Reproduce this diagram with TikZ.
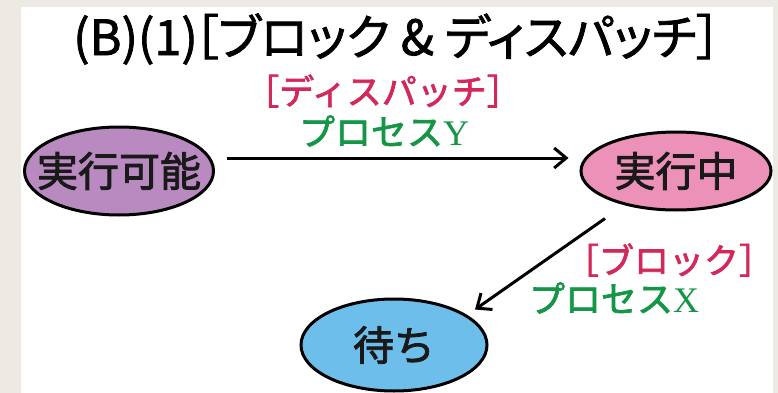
\documentclass[tikz,border=0pt]{standalone}
\usepackage{fontspec}
\usetikzlibrary{arrows.meta,shapes.geometric}
\newfontfamily\jp[BoldFont={Noto Sans CJK JP},BoldFeatures={FakeBold=2}]{Noto Sans CJK JP}
\newfontfamily\jptitle[BoldFont={Noto Sans CJK JP},BoldFeatures={FakeBold=1.6,RawFeature=+palt},RawFeature=+palt]{Noto Sans CJK JP}
\newfontfamily\ser{Liberation Serif}
\definecolor{bggray}{HTML}{ECEAE3}
\definecolor{purp}{HTML}{B88AC0}
\definecolor{pinkf}{HTML}{EC91B8}
\definecolor{bluef}{HTML}{6EBEEB}
\definecolor{redt}{HTML}{D2285A}
\definecolor{greent}{HTML}{149646}
\tikzset{
  state/.style={ellipse, draw=black, line width=3pt, inner sep=0pt},
  stlabel/.style={font=\jp\bfseries\fontsize{41}{41}\selectfont, text=black!90},
  arr/.style={line width=3pt, -{Straight Barb[length=12pt,width=20pt]}},
  redlab/.style={font=\jp\bfseries\fontsize{35}{35}\selectfont, text=redt, inner sep=0pt},
  greenlab/.style={font=\jp\bfseries\fontsize{36}{36}\selectfont, text=greent, inner sep=0pt},
}
\begin{document}
\begin{tikzpicture}[x=1pt,y=-1pt]
\useasboundingbox (0,0) rectangle (778,393);
\fill[bggray] (0,0) rectangle (778,393);
\fill[white] (21,7) rectangle (773,393);

\node[inner sep=0pt, font=\jptitle\bfseries\fontsize{48.6}{48.6}\selectfont] (title) at (397,39)
  {(B)(1)\kern-4pt［ブロック\ \&\ ディスパッチ］};

\node[state, fill=purp, minimum width=189pt, minimum height=88pt,
  label={[stlabel]center:実行可能}] (e1) at (119,171) {};
\node[state, fill=pinkf, minimum width=190pt, minimum height=78pt,
  label={[stlabel]center:実行中}] (e2) at (676,171) {};
\node[state, fill=bluef, minimum width=186pt, minimum height=92pt,
  label={[stlabel]center:待ち}] (e3) at (394,345) {};

\node[redlab] (l1) at (383,91) {［ディスパッチ］};
\node[greenlab] (l2) at (384,131) {プロセス{\ser\mdseries Y}};
\node[redlab] (l3) at (669,260) {［ブロック］};
\node[greenlab] (l4) at (614,298) {プロセス{\ser\mdseries X}};

\draw[arr] ([shift={(12,-13)}]e1.east) -- ([shift={(-11,-13)}]e2.west);
\draw[arr] ([shift={(-71,7)}]e2.south) -- ([shift={(81,12)}]e3.north);
\end{tikzpicture}
\end{document}
